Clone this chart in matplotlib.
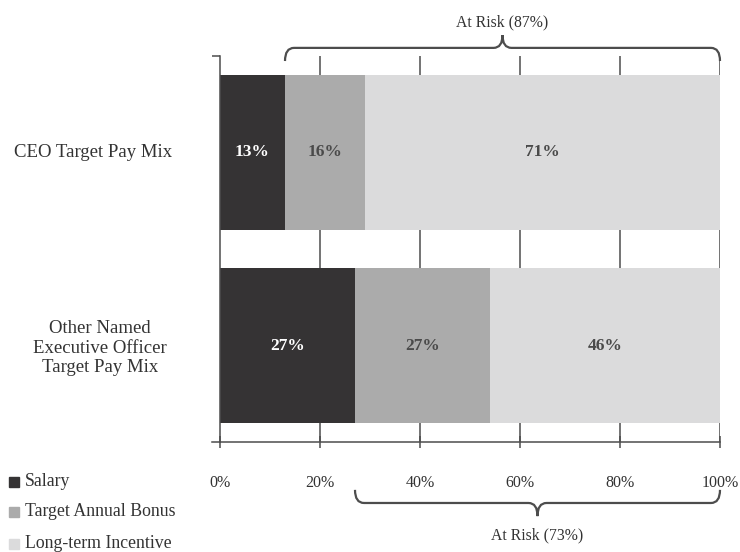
import matplotlib
matplotlib.use('Agg')
import matplotlib.pyplot as plt
from matplotlib.path import Path
from matplotlib.patches import PathPatch, Rectangle
from matplotlib.transforms import blended_transform_factory

plt.rcParams['font.family'] = ['Liberation Serif', 'DejaVu Serif']

groups = ['CEO Target Pay Mix', 'Other Named\nExecutive Officer\nTarget Pay Mix']
components = ['Salary', 'Target Annual Bonus', 'Long-term Incentive']
salary = [13, 27]
bonus = [16, 27]
incentive = [71, 46]
at_risk = [87, 73]
xticks = [0, 20, 40, 60, 80, 100]

colors = ['#353334', '#ababab', '#dbdbdc']
label_colors = ['white', '#4a4a4a', '#4a4a4a']
line_color = '#4d4d4d'
text_color = '#333333'

W, H = 740, 552
fig = plt.figure(figsize=(W / 100, H / 100), dpi=100)
ax = fig.add_axes([220 / W, 1 - 442 / H, 500 / W, 386 / H])

# stacked horizontal bars
left = [0, 0]
for vals, col, tcol in zip([salary, bonus, incentive], colors, label_colors):
    bars = ax.barh(range(len(groups)), vals, left=left, height=0.8,
                   color=col, zorder=2)
    for b, v in zip(bars, vals):
        ax.text(b.get_x() + b.get_width() / 2, b.get_y() + b.get_height() / 2,
                f'{v}%', ha='center', va='center', color=tcol,
                fontsize=12.5, fontweight='bold', zorder=3)
    left = [l + v for l, v in zip(left, vals)]

ax.set_xlim(0, 100)
ax.set_ylim(1.5, -0.5)

for x in xticks[1:]:
    ax.axvline(x, color=line_color, lw=1.1, zorder=1)

for side in ['top', 'right']:
    ax.spines[side].set_visible(False)
for side in ['left', 'bottom']:
    ax.spines[side].set_color(line_color)
    ax.spines[side].set_linewidth(1.1)

ax.set_xticks(xticks)
ax.set_xticklabels([f'{x}%' for x in xticks], fontsize=11.5, color=text_color)
ax.tick_params(axis='x', direction='inout', length=9, width=1.1,
               color=line_color, pad=19)
ax.set_yticks([-0.5])
ax.set_yticklabels([''])
ax.tick_params(axis='y', direction='out', length=6, width=1.1, color=line_color)

# bottom axis runs a little past the left spine
ax.plot([-1.6, 0], [1.5, 1.5], color=line_color, lw=1.1, clip_on=False)

# category labels, centred in the left margin
for i, (g, gx) in enumerate(zip(groups, [-25.3, -24])):
    ax.text(gx, i + (0.015 if i else 0), g, ha='center', va='center',
            fontsize=13.5, color=text_color, linespacing=1.2)


def brace(x0, x1, y_line, y_end, y_tip, rx=1.8):
    trans = blended_transform_factory(ax.transData, ax.transAxes)
    xm = (x0 + x1) / 2
    verts = [(x0, y_end), (x0, y_line), (x0 + rx, y_line),
             (xm - rx, y_line), (xm, y_line), (xm, y_tip),
             (xm, y_line), (xm + rx, y_line),
             (x1 - rx, y_line), (x1, y_line), (x1, y_end)]
    codes = [Path.MOVETO, Path.CURVE3, Path.CURVE3,
             Path.LINETO, Path.CURVE3, Path.CURVE3,
             Path.CURVE3, Path.CURVE3,
             Path.LINETO, Path.CURVE3, Path.CURVE3]
    ax.add_patch(PathPatch(Path(verts, codes), fill=False, ec=line_color,
                           lw=1.6, transform=trans, clip_on=False))
    return xm


label_trans = blended_transform_factory(ax.transData, ax.transAxes)
xm = brace(salary[0], 100, 1.021, 0.987, 1.054)
ax.text(xm, 1.088, f'At Risk ({at_risk[0]}%)', transform=label_trans,
        ha='center', va='center', fontsize=11.3, color=text_color)
xm = brace(salary[1], 100, -0.158, -0.124, -0.192)
ax.text(xm, -0.241, f'At Risk ({at_risk[1]}%)', transform=label_trans,
        ha='center', va='center', fontsize=11.3, color=text_color)

# legend in the lower left corner
for name, col, y in zip(components, colors, [482, 512, 544]):
    fig.patches.append(Rectangle((9 / W, 1 - (y + 5) / H), 10 / W, 10 / H,
                                 transform=fig.transFigure, color=col))
    fig.text(25 / W, 1 - y / H, name, ha='left', va='center',
             fontsize=12.8, color=text_color)

fig.savefig('out.png', dpi=100)
